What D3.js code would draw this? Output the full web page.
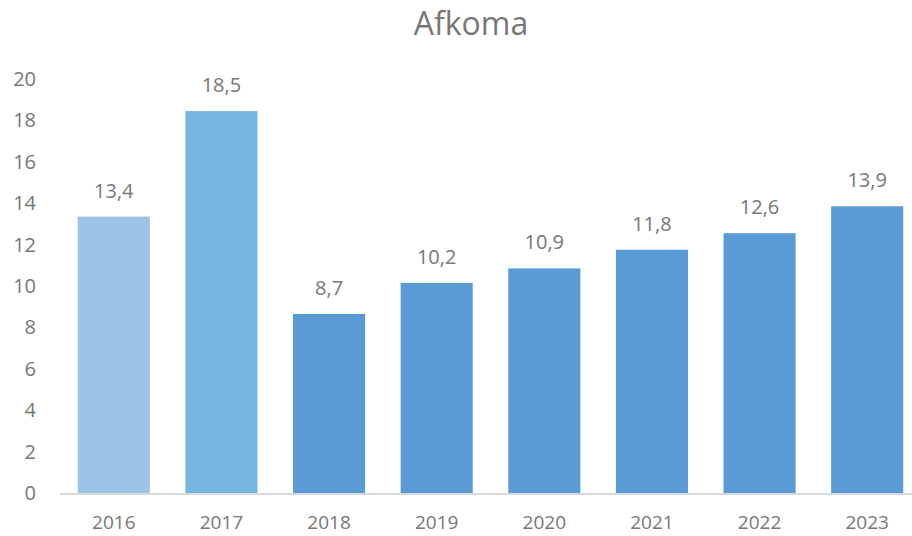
<!DOCTYPE html>
<html>
<head>
<meta charset="utf-8">
<script src="https://cdn.jsdelivr.net/npm/d3@7"></script>
<style>
  body { margin: 0; background: #fff; }
  text { font-family: "Open Sans", "Noto Sans", sans-serif; }
</style>
</head>
<body>
<script>
// data
const years = ["2016", "2017", "2018", "2019", "2020", "2021", "2022", "2023"];
const values = [13.4, 18.5, 8.7, 10.2, 10.9, 11.8, 12.6, 13.9];
const barColors = ["#9DC3E6", "#77B5E2", "#5B9BD5", "#5B9BD5", "#5B9BD5", "#5B9BD5", "#5B9BD5", "#5B9BD5"];
const yTicks = [0, 2, 4, 6, 8, 10, 12, 14, 16, 18, 20];

const width = 912, height = 536;
const textColor = "#777";

const svg = d3.select("body")
    .append("svg")
    .attr("width", width)
    .attr("height", height);

const x = d3.scaleBand()
    .domain(years)
    .range([60, 921])
    .paddingInner(0.33)
    .paddingOuter(0.165);

const y = d3.scaleLinear()
    .domain([0, 20])
    .range([494, 80]);

// title
svg.append("text")
    .attr("x", 471)
    .attr("y", 35)
    .attr("text-anchor", "middle")
    .attr("fill", textColor)
    .style("font-size", "32px")
    .text("Afkoma");

// y axis (labels only)
const yAxis = svg.append("g")
    .attr("transform", "translate(36,-1)")
    .call(d3.axisLeft(y).tickValues(yTicks).tickSize(0).tickPadding(0));
yAxis.select(".domain").remove();
yAxis.selectAll("text")
    .attr("fill", textColor)
    .style("font-size", "20px")
    .style("font-family", "'Open Sans', sans-serif");

// bars
svg.selectAll("rect.bar")
    .data(values)
    .enter()
    .append("rect")
    .attr("class", "bar")
    .attr("x", function(d, i) { return x(years[i]); })
    .attr("y", function(d) { return y(d); })
    .attr("width", x.bandwidth())
    .attr("height", function(d) { return y(0) - y(d); })
    .attr("fill", function(d, i) { return barColors[i]; });

// x axis
const xAxis = svg.append("g")
    .attr("transform", "translate(0," + y(0) + ")")
    .call(d3.axisBottom(x).tickSize(0).tickPadding(22));
xAxis.select(".domain").remove();
xAxis.append("line")
    .attr("x1", 60)
    .attr("x2", width)
    .attr("stroke", "#D9D9D9")
    .attr("stroke-width", 2);
xAxis.selectAll("text")
    .attr("fill", textColor)
    .style("font-size", "19px")
    .style("font-family", "'Open Sans', sans-serif");

// data labels
svg.selectAll("text.lbl")
    .data(values)
    .enter()
    .append("text")
    .attr("class", "lbl")
    .attr("x", function(d, i) { return x(years[i]) + x.bandwidth() / 2; })
    .attr("y", function(d) { return y(d) - 19; })
    .attr("text-anchor", "middle")
    .attr("fill", textColor)
    .style("font-size", "20px")
    .text(function(d) { return d.toFixed(1).replace(".", ","); });
</script>
</body>
</html>
